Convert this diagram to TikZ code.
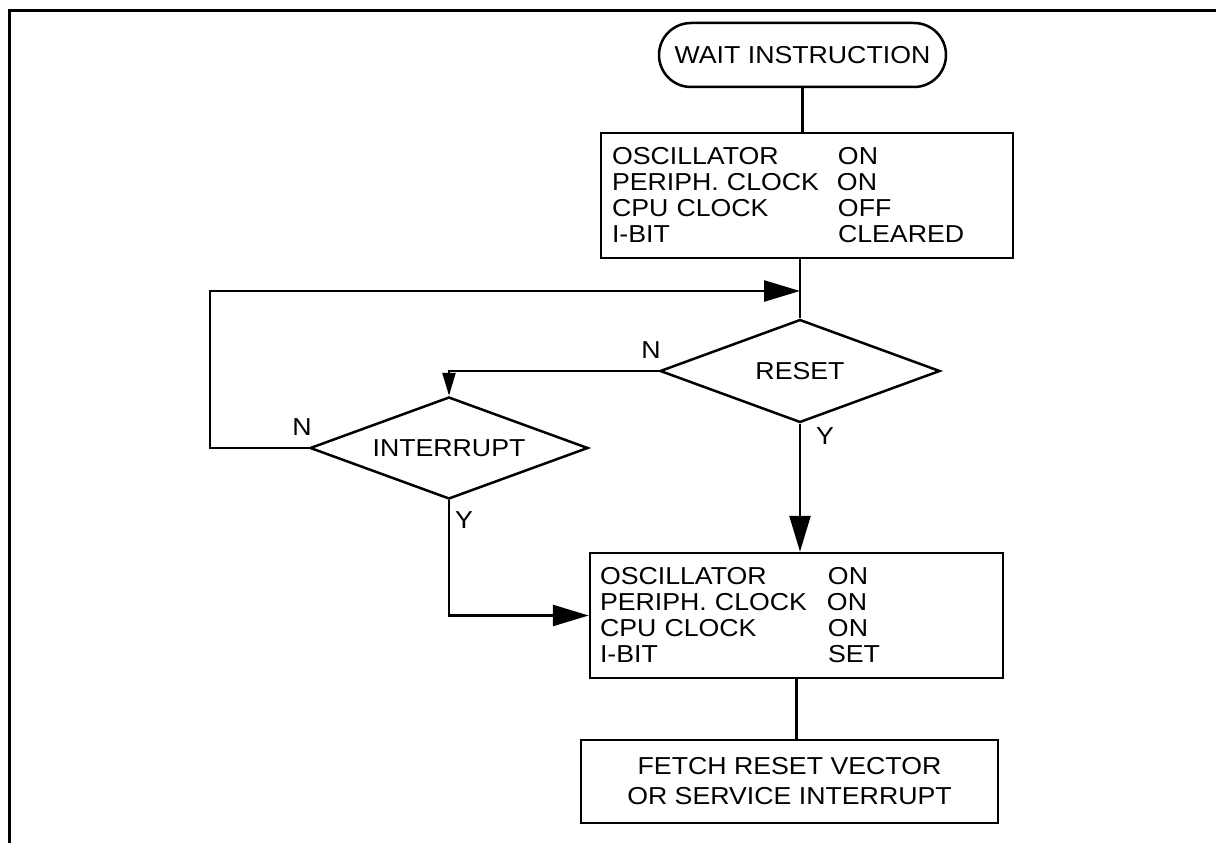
\documentclass[tikz,border=0pt]{standalone}
\usepackage{fontspec}
\setmainfont{Liberation Sans}[FakeStretch=1.09]
\usetikzlibrary{shapes.geometric,arrows.meta}
\begin{document}
\begin{tikzpicture}[x=1pt,y=-1pt,
  every node/.style={font=\fontsize{24.5}{26}\selectfont, inner sep=0pt},
  ln/.style={line width=2.5pt},
  box/.style={draw, line width=2.5pt, rectangle},
  dec/.style={draw, line width=2.5pt, diamond, aspect=2.72},
  big/.style={-{Triangle[length=36pt,width=21pt]}},
  small/.style={-{Triangle[length=23pt,width=13pt]}},
  lbl/.style={font=\fontsize{24.5}{26}\selectfont}]
\useasboundingbox (0,0) rectangle (1216,843);
% frame
\coordinate (fr1) at (1216,10.5);
\coordinate (fr2) at (9.5,10.5);
\coordinate (fr3) at (9.5,843);
\draw[line width=3.2pt] (fr1) -- (fr2) -- (fr3);
% nodes
\node[draw, line width=2.5pt, rounded corners=32pt, minimum width=287pt, minimum height=64pt] (start) at (802.5,55) {WAIT INSTRUCTION};
\node[box, minimum height=125pt, text width=390pt, inner xsep=11pt, align=left] (b1) at (807,195.5)
  {\makebox[226pt][l]{OSCILLATOR}ON\\
   \makebox[225pt][l]{PERIPH. CLOCK}ON\\
   \makebox[226pt][l]{CPU CLOCK}OFF\\
   \makebox[226pt][l]{I-BIT}CLEARED};
\node[dec, minimum width=280pt, minimum height=103pt] (rst) at (800,371) {RESET};
\node[dec, minimum width=278pt, minimum height=102pt] (int) at (449,448) {INTERRUPT};
\node[box, minimum height=125pt, text width=393pt, inner xsep=10pt, align=left] (b2) at (796.5,615.5)
  {\makebox[228pt][l]{OSCILLATOR}ON\\
   \makebox[227pt][l]{PERIPH. CLOCK}ON\\
   \makebox[228pt][l]{CPU CLOCK}ON\\
   \makebox[228pt][l]{I-BIT}SET};
\node[box, minimum width=417pt, minimum height=83pt, align=center, font=\fontsize{24.5}{30}\selectfont] (fet) at (789.5,781.5)
  {FETCH RESET VECTOR\\OR SERVICE INTERRUPT};
% labels
\node[lbl] (nr) at (651,350) {N};
\node[lbl] (ni) at (302,427) {N};
\node[lbl] (yr) at (825,436) {Y};
\node[lbl] (yi) at (464,520) {Y};
% connectors
\coordinate (lp) at (210,291);
\draw[ln] (start.south) -- (start.south |- b1.north);
\draw[ln] (rst.north |- b1.south) -- (rst.north);
\draw[ln, small] (rst.west) -| (int.north);
\draw[ln, big] (rst.south) -- (rst.south |- b2.north);
\draw[ln, big] (int.west) -| (lp) -- (lp -| rst.north);
\draw[ln, big] (int.south) |- (b2.west);
\draw[ln] (b2.south) -- (b2.south |- fet.north);
\end{tikzpicture}
\end{document}
